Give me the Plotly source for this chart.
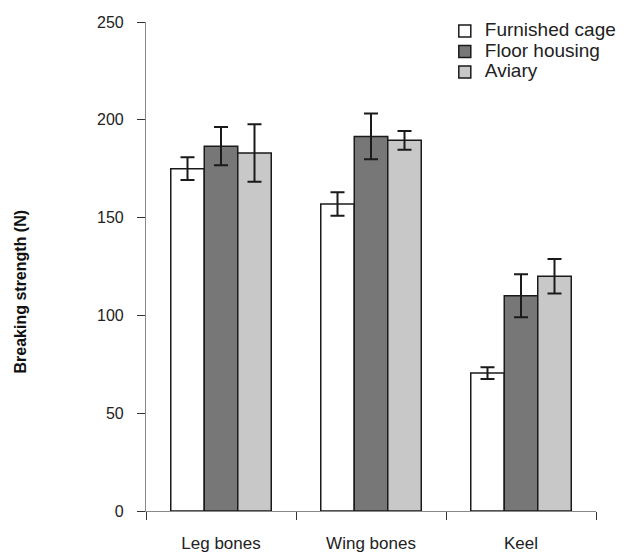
import plotly.graph_objects as go

categories = ["Leg bones", "Wing bones", "Keel"]
series_names = ["Furnished cage", "Floor housing", "Aviary"]
furnished = [175, 157, 70.5]
floor = [186.5, 191.5, 110]
aviary = [183, 189.5, 120]
furnished_err = [5.8, 6, 3]
floor_err = [9.8, 11.7, 11]
aviary_err = [14.7, 4.8, 8.8]
colors = ["#ffffff", "#777777", "#c8c8c8"]
y_ticks = [0, 50, 100, 150, 200, 250]

FONT = "Liberation Sans, Arial, sans-serif"

fig = go.Figure()
for name, vals, errs, col in zip(series_names, [furnished, floor, aviary],
                                 [furnished_err, floor_err, aviary_err], colors):
    fig.add_trace(go.Bar(
        x=categories, y=vals,
        name='<span style="font-size:19px">' + name + '</span>',
        marker=dict(color=col, line=dict(color="#1a1a1a", width=1.5)),
        error_y=dict(type="data", array=errs, visible=True, color="#1a1a1a",
                     thickness=2, width=7),
    ))

# page body has an 8px default margin; compensate so the plot lands in place
fig.update_layout(
    width=622, height=544,
    margin=dict(l=138, r=34, t=14, b=41, autoexpand=False),
    plot_bgcolor="white", paper_bgcolor="white",
    barmode="group", bargap=0.33, bargroupgap=0,
    font=dict(family=FONT, size=15, color="#222222"),
    legend=dict(x=0.664, y=0.986, xanchor="left", yanchor="top",
                yref="container",
                font=dict(size=13.5, family=FONT, color="#222222"),
                bgcolor="rgba(0,0,0,0)", tracegroupgap=0, itemwidth=30),
    xaxis=dict(
        range=[-0.5, 2.5], showline=True, linecolor="#888888", linewidth=1.2,
        ticks="outside", tickson="boundaries", ticklen=8, tickcolor="#333333",
        tickwidth=1.2, tickfont=dict(size=17, color="#222222"),
        ticklabelstandoff=16, showgrid=False, zeroline=False, automargin=False,
    ),
    yaxis=dict(
        range=[0, 250], tickvals=y_ticks, showline=True, linecolor="#888888",
        linewidth=1.2, ticks="outside", ticklen=8, tickcolor="#333333",
        tickwidth=1.2, tickfont=dict(size=16, color="#222222"),
        ticklabelstandoff=10, showgrid=False, zeroline=False, automargin=False,
    ),
    annotations=[dict(
        text="<b>Breaking strength (N)</b>", textangle=-90,
        xref="paper", yref="paper", x=(20 - 146) / 450, y=(511 - 291.5) / 489,
        xanchor="center", yanchor="middle", showarrow=False,
        font=dict(size=16, color="#111111", family=FONT),
    )],
)

fig.write_html("out.html")
